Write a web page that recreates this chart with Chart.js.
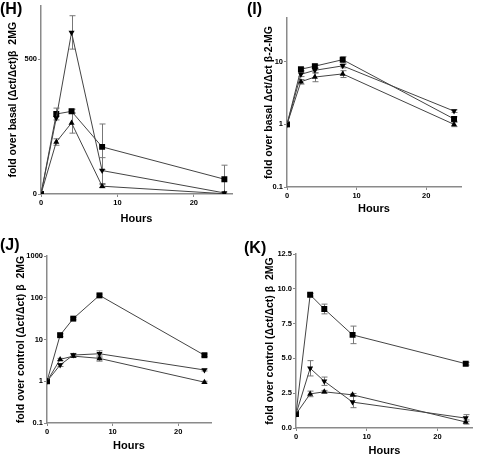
<!DOCTYPE html>
<html>
<head>
<meta charset="utf-8">
<script src="https://cdn.jsdelivr.net/npm/chart.js@4.4.0/dist/chart.umd.min.js"></script>
<style>
  body { margin: 0; background: #fff; }
  #wrap { position: relative; width: 477px; height: 456px; overflow: hidden; background: #fff;
          font-family: "Liberation Sans", Arial, sans-serif; }
  .panel { position: absolute; }
  .tag { position: absolute; font-weight: bold; font-size: 16px; line-height: 16px; color: #000; }
</style>
</head>
<body>
<div id="wrap">
  <canvas class="panel" id="chartH" width="238" height="228" style="left:0;top:0"></canvas>
  <canvas class="panel" id="chartI" width="239" height="228" style="left:238px;top:0"></canvas>
  <canvas class="panel" id="chartJ" width="238" height="228" style="left:0;top:228px"></canvas>
  <canvas class="panel" id="chartK" width="239" height="230" style="left:238px;top:228px"></canvas>
  <div class="tag" style="left:0;top:1px">(H)</div>
  <div class="tag" style="left:247px;top:1px">(I)</div>
  <div class="tag" style="left:0;top:237px">(J)</div>
  <div class="tag" style="left:244px;top:240px">(K)</div>
</div>
<script>
// time points (hours)
const hours = [0, 2, 4, 8, 24];
const xTicks = [0, 10, 20];

// (H) fold over basal, linear
const hSquare = [0, 297, 307, 175, 55];
const hSquareErr = [0, 22, 8, 85, 52];
const hDown = [0, 282, 600, 87, 4];
const hDownErr = [0, 0, 62, 48, 0];
const hUp = [0, 193, 264, 29, 1];
const hUpErr = [0, 12, 38, 6, 0];
const hYTicks = [0, 500];

// (I) fold over basal, log
const iSquare = [1, 7.6, 8.5, 10.8, 1.22];
const iSquareErr = [0, 0.4, 0.6, 1.2, 0.1];
const iDown = [1, 6.3, 7.3, 8.6, 1.63];
const iDownErr = [0, 0.5, 0.6, 0.6, 0.08];
const iUp = [1, 4.8, 5.7, 6.4, 1.0];
const iUpErr = [0, 0.4, 0.9, 0.8, 0.08];
const iYTicks = [0.1, 1, 10];

// (J) fold over control, log
const jSquare = [1, 12.7, 31.6, 114, 4.2];
const jSquareErr = [0, 1, 2, 8, 0.3];
const jDown = [1, 2.45, 4.24, 4.56, 1.86];
const jDownErr = [0, 0.2, 0.4, 0.8, 0.1];
const jUp = [1, 3.34, 4.0, 3.53, 0.95];
const jUpErr = [0, 0.2, 0.3, 0.5, 0.05];
const jYTicks = [0.1, 1, 10, 100, 1000];

// (K) fold over control, linear
const kSquare = [1, 9.57, 8.55, 6.69, 4.62];
const kSquareErr = [0, 0.1, 0.35, 0.63, 0.1];
const kDown = [1, 4.29, 3.36, 1.86, 0.71];
const kDownErr = [0, 0.55, 0.3, 0.4, 0.25];
const kUp = [1, 2.45, 2.6, 2.38, 0.43];
const kUpErr = [0, 0.2, 0.1, 0.1, 0.15];
const kYTicks = [0, 2.5, 5, 7.5, 10, 12.5];

const axisColor = '#8a8a8a';
const lineColor = '#444';
const errColor = '#777';
const fontFamily = '"Liberation Sans", Arial, sans-serif';

// draw vertical error bars with caps, using the chart scales
const errorBars = {
  id: 'errorBars',
  beforeDatasetsDraw(chart) {
    const ctx = chart.ctx;
    const xs = chart.scales.x, ys = chart.scales.y;
    ctx.save();
    ctx.strokeStyle = errColor;
    ctx.lineWidth = 1;
    chart.data.datasets.forEach(ds => {
      if (!ds.errors) return;
      ds.data.forEach((p, i) => {
        const e = ds.errors[i];
        if (!e) return;
        const px = Math.round(xs.getPixelForValue(p.x)) + 0.5;
        const lo = Math.max(p.y - e, ys.min);
        const top = ys.getPixelForValue(p.y + e);
        const bot = ys.getPixelForValue(lo);
        ctx.beginPath();
        ctx.moveTo(px, top); ctx.lineTo(px, bot);
        ctx.moveTo(px - 3, top); ctx.lineTo(px + 3, top);
        ctx.moveTo(px - 3, bot); ctx.lineTo(px + 3, bot);
        ctx.stroke();
      });
    });
    ctx.restore();
  }
};

function series(values, errors, style) {
  const down = style === 'down';
  return {
    data: hours.map((h, i) => ({ x: h, y: values[i] })),
    errors: errors,
    borderColor: lineColor,
    borderWidth: 1,
    tension: 0,
    pointStyle: style === 'square' ? 'rect' : 'triangle',
    pointRotation: down ? 180 : 0,
    pointRadius: style === 'square' ? 4.2 : 3.5,
    pointBackgroundColor: '#000',
    pointBorderColor: '#000',
    pointBorderWidth: 0
  };
}

function makePanel(id, p) {
  return new Chart(document.getElementById(id), {
    type: 'line',
    data: {
      datasets: [
        series(p.down, p.downErr, 'down'),
        series(p.up, p.upErr, 'up'),
        series(p.square, p.squareErr, 'square')
      ]
    },
    plugins: [errorBars],
    options: {
      responsive: false,
      animation: false,
      layout: { padding: { top: p.top, right: p.right, left: 0, bottom: 0 } },
      plugins: { legend: { display: false }, tooltip: { enabled: false } },
      scales: {
        x: {
          type: 'linear', min: 0, max: 25,
          afterFit: s => { s.height = p.xHeight; },
          afterBuildTicks: s => { s.ticks = xTicks.map(v => ({ value: v })); },
          grid: { drawOnChartArea: false, drawTicks: true, tickLength: 3, color: axisColor },
          border: { color: axisColor, width: 1.5 },
          ticks: { color: '#000', padding: 1, maxRotation: 0, font: { family: fontFamily, size: 7.5, weight: 'bold' } },
          title: { display: true, text: 'Hours', color: '#000', padding: { top: 0, bottom: p.hoursPad },
                   font: { family: fontFamily, size: 11, weight: 'bold' } }
        },
        y: {
          type: p.log ? 'logarithmic' : 'linear', min: p.yMin, max: p.yMax,
          afterFit: s => { s.width = p.yWidth; },
          afterBuildTicks: s => { s.ticks = p.yTicks.map(v => ({ value: v })); },
          grid: { drawOnChartArea: false, drawTicks: true, tickLength: 3, color: axisColor },
          border: { color: axisColor, width: 1.5 },
          ticks: { color: '#000', padding: 1, font: { family: fontFamily, size: 7.5, weight: 'bold' },
                   callback: v => p.fmt ? p.fmt(v) : String(v) },
          title: { display: true, text: p.yTitle, color: '#000', padding: { top: p.titlePad, bottom: 0 },
                   font: { family: fontFamily, size: 10.5, weight: 'bold' } }
        }
      }
    }
  });
}

makePanel('chartH', {
  square: hSquare, squareErr: hSquareErr, down: hDown, downErr: hDownErr, up: hUp, upErr: hUpErr,
  log: false, yMin: 0, yMax: 700, yTicks: hYTicks,
  yTitle: 'fold over basal (\u0394ct/\u0394ct)\u03b2  2MG',
  top: 4, right: 6, yWidth: 41, xHeight: 34, titlePad: 7, hoursPad: 2
});

makePanel('chartI', {
  square: iSquare, squareErr: iSquareErr, down: iDown, downErr: iDownErr, up: iUp, upErr: iUpErr,
  log: true, yMin: 0.1, yMax: 50, yTicks: iYTicks,
  yTitle: 'fold over basal \u0394ct/\u0394ct \u03b2-2-MG',
  top: 18, right: 16, yWidth: 49, xHeight: 41, titlePad: 25, hoursPad: 12
});

makePanel('chartJ', {
  square: jSquare, squareErr: jSquareErr, down: jDown, downErr: jDownErr, up: jUp, upErr: jUpErr,
  log: true, yMin: 0.1, yMax: 1000, yTicks: jYTicks,
  yTitle: 'fold over control (\u0394ct/\u0394ct) \u03b2  2MG',
  top: 28, right: 27, yWidth: 47, xHeight: 33, titlePad: 15, hoursPad: 3
});

makePanel('chartK', {
  square: kSquare, squareErr: kSquareErr, down: kDown, downErr: kDownErr, up: kUp, upErr: kUpErr,
  log: false, yMin: 0, yMax: 12.5, yTicks: kYTicks, fmt: v => v.toFixed(1),
  yTitle: 'fold over control (\u0394ct/\u0394ct) \u03b2  2MG',
  top: 26, right: 0, yWidth: 58, xHeight: 30, titlePad: 26, hoursPad: 0
});
</script>
</body>
</html>
